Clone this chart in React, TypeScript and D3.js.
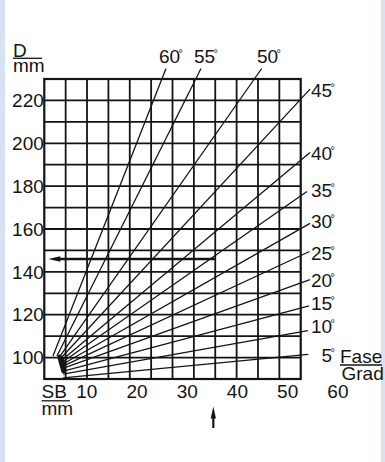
import React from "react";
import * as d3 from "d3";

const W = 385;
const H = 462;

// axis tick labels
const dTicks = [100, 120, 140, 160, 180, 200, 220];
const sbTicks = [10, 20, 30, 40, 50, 60];

// grid: D from 90 to 230 in 10 mm rows, SB frame extent
const dExtent = [90, 230];
const sbFrame = [1.55, 52.6];
const gridCols = 12;
const gridRows = 14;

// chamfer angle lines (start and end points in SB / D mm)
const angles = [5, 10, 15, 20, 25, 30, 35, 40, 45, 50, 55, 60];
const startSB = [5.28, 5.28, 5.38, 5.38, 5.38, 5.28, 5.18, 5.08, 4.88, 4.58, 4.08, 3.28];
const startD = [90.5, 92.3, 93.7, 95.1, 96.1, 97.0, 97.9, 98.9, 99.8, 100.3, 100.7, 100.7];
const endSB = [54.1, 54.05, 54.25, 54.45, 54.35, 54.45, 53.85, 54.45, 54.45, 44.83, 32.75, 25.78];
const endD = [101.5, 112.6, 124.1, 136.4, 149.5, 162.6, 177.5, 195.7, 225.3, 234.9, 234.9, 234.9];
// where each angle label ends (right edge of the number)
const labelSB = [58.83, 58.83, 58.83, 58.83, 58.83, 58.83, 58.83, 58.83, 58.83, 48.08, 35.54, 28.57];
const labelD = [97.9, 111.5, 122.2, 132.9, 145.5, 160.5, 174.9, 192.2, 221.6, 237.5, 237.5, 237.5];

// worked example
const exampleSB = 35.2;
const exampleD = 146;

const FONT = "'Liberation Sans', Arial, Helvetica, sans-serif";
const INK = "#141414";

export default function App() {
  const x = d3.scaleLinear().domain([0, 60]).range([36.5, 337.9]);
  const y = d3.scaleLinear().domain(dExtent).range([379, 79]);
  const col = d3
    .scaleLinear()
    .domain([0, gridCols])
    .range([x(sbFrame[0]), x(sbFrame[1])]);

  const left = x(sbFrame[0]);
  const right = x(sbFrame[1]);
  const top = y(dExtent[1]);
  const bottom = y(dExtent[0]);

  const line = d3.line<[number, number]>();

  // knot drawn around the start points of the middle lines
  const knotPts: [number, number][] = angles
    .map((a, i) => [x(startSB[i]), y(startD[i])] as [number, number])
    .slice(2, 10);
  const hull = d3.polygonHull(knotPts) || knotPts;

  const ex = x(exampleSB);
  const ey = y(exampleD);

  return (
    <svg
      width={W}
      height={H}
      style={{ position: "absolute", left: 0, top: 0 }}
      fontFamily={FONT}
    >
      <rect width={W} height={H} fill="#d7e2f2" />
      <rect x={5} y={0} width={376} height={H} fill="#ffffff" />

      {/* grid */}
      <g stroke={INK} strokeWidth={1.8}>
        {d3.range(1, gridCols).map((i) => (
          <line key={"v" + i} x1={col(i)} x2={col(i)} y1={top} y2={bottom} />
        ))}
        {d3.range(1, gridRows).map((i) => (
          <line
            key={"h" + i}
            x1={left}
            x2={right}
            y1={y(dExtent[0] + i * 10)}
            y2={y(dExtent[0] + i * 10)}
          />
        ))}
      </g>

      {/* fan of chamfer lines */}
      <g stroke={INK} strokeWidth={1.3} fill="none">
        {angles.map((a, i) => (
          <path
            key={a}
            d={
              line([
                [x(startSB[i]), y(startD[i])],
                [x(endSB[i]), y(endD[i])],
              ]) || ""
            }
          />
        ))}
      </g>
      <path
        d={line(hull as [number, number][]) + "Z"}
        fill={INK}
        stroke={INK}
        strokeWidth={4.5}
        strokeLinejoin="round"
      />

      {/* frame */}
      <rect
        x={left}
        y={top}
        width={right - left}
        height={bottom - top}
        fill="none"
        stroke={INK}
        strokeWidth={2.2}
      />

      {/* example: horizontal read-off with arrow to D axis */}
      <line x1={left + 14} x2={ex + 1.5} y1={ey} y2={ey} stroke={INK} strokeWidth={2.4} />
      <path
        d={`M${left + 4},${ey} L${left + 16},${ey - 2.8} L${left + 16},${ey + 2.8} Z`}
        fill={INK}
      />
      {/* vertical arrow below SB axis */}
      <line x1={ex} x2={ex} y1={416} y2={428} stroke={INK} strokeWidth={2.2} />
      <path d={`M${ex},${406.5} L${ex + 2.6},${418.5} L${ex - 2.6},${418.5} Z`} fill={INK} />

      {/* angle labels with small degree marks */}
      <g fill={INK} fontSize={19}>
        {angles.map((a, i) => (
          <g key={"l" + a}>
            <text x={x(labelSB[i])} y={y(labelD[i])} textAnchor="end">
              {a}
            </text>
            <text x={x(labelSB[i]) - 1.5} y={y(labelD[i]) - 5.7} fontSize={11}>
              °
            </text>
          </g>
        ))}
      </g>

      {/* D axis labels */}
      <g fill={INK} fontSize={19} textAnchor="end">
        {dTicks.map((d) => (
          <text key={d} x={left - 0.5} y={y(d) + 6.7}>
            {d}
          </text>
        ))}
      </g>

      {/* SB axis labels */}
      <g fill={INK} fontSize={19} textAnchor="middle">
        {sbTicks.map((v) => (
          <text key={v} x={x(v)} y={398}>
            {v}
          </text>
        ))}
      </g>

      {/* axis titles, written as fractions */}
      <g fill={INK} fontSize={19}>
        <text>
          <tspan x={13} y={56.5}>D</tspan>
          <tspan x={13} y={71.5}>mm</tspan>
        </text>
        <line x1={13} x2={42} y1={58.3} y2={58.3} stroke={INK} strokeWidth={1.3} />

        <text>
          <tspan x={41.5} y={398}>SB</tspan>
          <tspan x={41.5} y={415}>mm</tspan>
        </text>
        <line x1={41.5} x2={70} y1={400.8} y2={400.8} stroke={INK} strokeWidth={1.3} />

        <text>
          <tspan x={340} y={363}>Fase</tspan>
          <tspan x={341.5} y={380}>Grad</tspan>
        </text>
        <line x1={340} x2={382} y1={365} y2={365} stroke={INK} strokeWidth={1.3} />
      </g>
    </svg>
  );
}
